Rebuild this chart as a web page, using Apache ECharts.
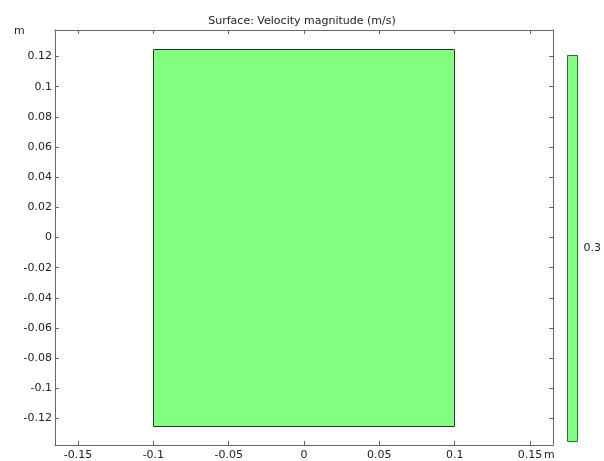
<!DOCTYPE html>
<html><head><meta charset="utf-8">
<script src="https://cdn.jsdelivr.net/npm/echarts@6/dist/echarts.min.js"></script>
<style>html,body{margin:0;padding:0;background:#fff}#c{width:604px;height:461px}</style>
</head><body><div id="c"></div>
<script>
// ---- data ----
const titleText = 'Surface: Velocity magnitude (m/s)';
const xTicks = [-0.15, -0.1, -0.05, 0, 0.05, 0.1, 0.15];
const yTicks = [-0.12, -0.1, -0.08, -0.06, -0.04, -0.02, 0, 0.02, 0.04, 0.06, 0.08, 0.1, 0.12];
const xRange = [-0.1653, 0.1653];
const yRange = [-0.1376, 0.1376];
const domainRect = [[-0.1, -0.125, 0.1, 0.125]]; // x0, y0, x1, y1 (m)
const surfaceValue = 0.3;           // velocity magnitude (m/s)
const colorTicks = [0.3];
const colorRange = [0.29, 0.31];
const unitLabel = 'm';

const GREEN = '#80ff80';
const TXT = '#222';
const FRAME = '#666';
const FONT = 'DejaVu Sans';

function rectItem(stroke) {
  return function (params, api) {
    const p0 = api.coord([api.value(0), api.value(3)]);
    const p1 = api.coord([api.value(2), api.value(1)]);
    return {
      type: 'rect',
      shape: { x: Math.round(p0[0]) + 0.5, y: Math.round(p0[1]) + 0.5,
               width: Math.round(p1[0] - p0[0]), height: Math.round(p1[1] - p0[1]) },
      style: { fill: GREEN, stroke: stroke, lineWidth: 1 }
    };
  };
}

function frameAxis(extra) {
  return Object.assign({
    type: 'value',
    axisLine: { show: true, onZero: false, lineStyle: { color: FRAME, width: 1 } },
    axisTick: { show: true, inside: true, length: 4, lineStyle: { color: FRAME } },
    axisLabel: { show: false },
    splitLine: { show: false }
  }, extra);
}

const chart = echarts.init(document.getElementById('c'), null, { renderer: 'canvas' });
chart.setOption({
  animation: false,
  backgroundColor: '#fff',
  textStyle: { fontFamily: FONT },
  title: {
    text: titleText, left: 'center', top: 11,
    textStyle: { fontSize: 11, fontWeight: 'normal', color: TXT, fontFamily: FONT }
  },
  grid: [
    { left: 55, right: 51, top: 30, bottom: 15 },
    { left: 567, width: 11, top: 55, bottom: 20 }
  ],
  xAxis: [
    frameAxis({ gridIndex: 0, position: 'bottom', min: xRange[0], max: xRange[1],
      axisTick: { show: true, inside: true, length: 4, customValues: xTicks, lineStyle: { color: FRAME } },
      axisLabel: { show: true, customValues: xTicks, fontSize: 11, color: TXT, margin: 5, fontFamily: FONT } }),
    frameAxis({ gridIndex: 0, position: 'top', min: xRange[0], max: xRange[1],
      axisTick: { show: true, inside: true, length: 4, customValues: xTicks, lineStyle: { color: FRAME } } }),
    { type: 'value', gridIndex: 1, min: 0, max: 1, show: false }
  ],
  yAxis: [
    frameAxis({ gridIndex: 0, position: 'left', min: yRange[0], max: yRange[1],
      axisTick: { show: true, inside: true, length: 4, customValues: yTicks, lineStyle: { color: FRAME } },
      axisLabel: { show: true, customValues: yTicks, fontSize: 11, color: TXT, margin: 3, fontFamily: FONT } }),
    frameAxis({ gridIndex: 0, position: 'right', min: yRange[0], max: yRange[1],
      axisTick: { show: true, inside: true, length: 4, customValues: yTicks, lineStyle: { color: FRAME } } }),
    { type: 'value', gridIndex: 1, position: 'right', min: colorRange[0], max: colorRange[1],
      axisLine: { show: false }, splitLine: { show: false },
      axisTick: { show: false },
      axisLabel: { show: true, customValues: colorTicks, fontSize: 11, color: TXT, margin: 7, fontFamily: FONT } },
    { type: 'value', gridIndex: 1, position: 'left', min: colorRange[0], max: colorRange[1],
      axisLine: { show: false }, splitLine: { show: false }, axisLabel: { show: false },
      axisTick: { show: true, inside: true, length: 3, customValues: colorTicks, lineStyle: { color: '#9a9', type: 'dotted' } } }
  ],
  graphic: [
    { type: 'text', left: 14, top: 26, style: { text: unitLabel, fontSize: 11, fill: TXT, fontFamily: FONT } },
    { type: 'text', left: 544, top: 450, style: { text: unitLabel, fontSize: 11, fill: TXT, fontFamily: FONT } }
  ],
  series: [
    { type: 'custom', xAxisIndex: 0, yAxisIndex: 0, renderItem: rectItem('#333'),
      encode: { x: [0, 2], y: [1, 3] }, data: domainRect, silent: true },
    { type: 'custom', xAxisIndex: 2, yAxisIndex: 2, renderItem: rectItem('#555'),
      encode: { x: [0, 2], y: [1, 3] }, data: [[0, colorRange[0], 1, colorRange[1], surfaceValue]], silent: true, z: 1 }
  ]
});
</script></body></html>
